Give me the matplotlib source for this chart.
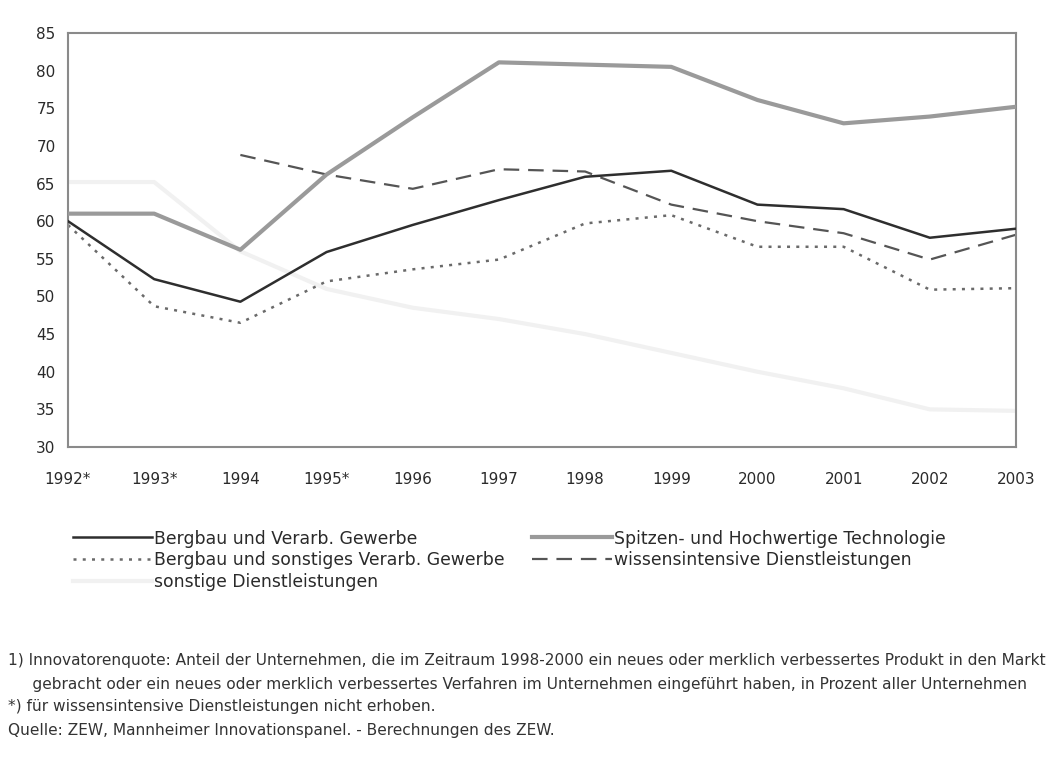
import matplotlib
matplotlib.use("Agg")
import matplotlib.pyplot as plt
import numpy as np

plt.rcParams['font.family'] = ['DejaVu Sans']

years = ['1992*', '1993*', '1994', '1995*', '1996', '1997', '1998', '1999',
         '2000', '2001', '2002', '2003']

bergbau_verarb = [60.0, 52.3, 49.3, 55.9, 59.5, 62.8, 65.9, 66.7, 62.2, 61.6, 57.8, 59.0]
spitzen_tech = [61.0, 61.0, 56.2, 66.2, 73.8, 81.1, 80.8, 80.5, 76.1, 73.0, 73.9, 75.2]
bergbau_sonst = [59.5, 48.7, 46.5, 52.0, 53.6, 54.9, 59.7, 60.8, 56.6, 56.6, 50.9, 51.1]
wissens_dl = [np.nan, np.nan, 68.8, 66.2, 64.3, 66.9, 66.6, 62.2, 60.0, 58.4, 54.9, 58.2]
sonstige_dl = [65.2, 65.2, 56.0, 51.0, 48.5, 47.0, 45.0, 42.5, 40.0, 37.8, 35.0, 34.8]

footnotes = [
    "1) Innovatorenquote: Anteil der Unternehmen, die im Zeitraum 1998-2000 ein neues oder merklich verbessertes Produkt in den Markt",
    "     gebracht oder ein neues oder merklich verbessertes Verfahren im Unternehmen eingeführt haben, in Prozent aller Unternehmen",
    "*) für wissensintensive Dienstleistungen nicht erhoben.",
    "Quelle: ZEW, Mannheimer Innovationspanel. - Berechnungen des ZEW.",
]

fig = plt.figure(figsize=(10.56, 7.58), dpi=100)
ax = fig.add_axes([68/1056, 1-447/758, (1016-68)/1056, (447-33)/758])

x = np.arange(len(years))
# almost washed out in the scan
l_sdl, = ax.plot(x, sonstige_dl, color='#f1f1f1', lw=3, zorder=1,
                 label='sonstige Dienstleistungen')
l_bv, = ax.plot(x, bergbau_verarb, color='#2e2e2e', lw=1.8, zorder=4,
                label='Bergbau und Verarb. Gewerbe')
l_sp, = ax.plot(x, spitzen_tech, color='#9a9a9a', lw=3, zorder=3,
                label='Spitzen- und Hochwertige Technologie')
l_bs, = ax.plot(x, bergbau_sonst, color='#6a6a6a', lw=1.8, ls=(0, (1.2, 2.5)),
                zorder=2, label='Bergbau und sonstiges Verarb. Gewerbe')
l_wd, = ax.plot(x, wissens_dl, color='#555555', lw=1.6, ls=(0, (7, 4)),
                zorder=2, label='wissensintensive Dienstleistungen')

ax.set_xlim(0, len(years) - 1)
ax.set_ylim(30, 85)
ax.set_yticks(range(30, 86, 5))
ax.set_xticks(x)
ax.set_xticklabels(years)
ax.tick_params(length=0, labelsize=11, colors='#2a2a2a')
ax.tick_params(axis='x', pad=18)
ax.tick_params(axis='y', pad=9)
for s in ax.spines.values():
    s.set_color('#8a8a8a')
    s.set_linewidth(1.5)

fig.legend(handles=[l_bv, l_bs, l_sdl, l_sp, l_wd], ncol=2,
           loc='upper left', bbox_to_anchor=(57/1056, 1-514/758),
           frameon=False, fontsize=12.4, handlelength=4.6, handletextpad=0.15,
           columnspacing=1.6, labelspacing=0.22, labelcolor='#2a2a2a')

ys = [660, 684, 707, 730]
for t, yy in zip(footnotes, ys):
    fig.text(8/1056, 1-yy/758, t, fontsize=11.1, color='#333333', va='center')

fig.savefig('out.png', dpi=100, facecolor='white')
